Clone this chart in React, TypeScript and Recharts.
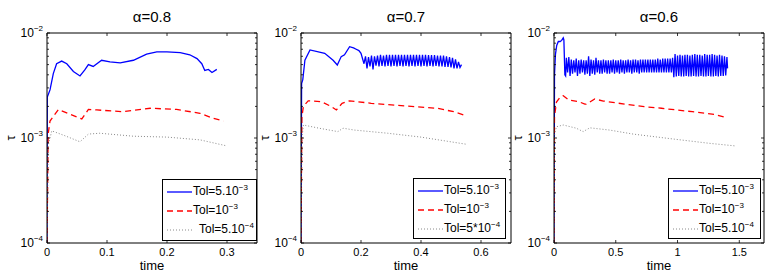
import { LineChart, Line, XAxis, YAxis, Legend } from "recharts";

const FONT = '"Liberation Sans", Arial, Helvetica, sans-serif';

// tau values are stored in units of 1e-3, [time, tau]
const A08_TOL_5E3: [number, number][] = [
  [0, 0.1], [0.0005, 2.46], [0.005, 2.87], [0.0105, 4.1], [0.016, 5.1], [0.0245, 5.4], [0.033, 5.1],
  [0.044, 4.3], [0.055, 3.9], [0.063, 4.45], [0.069, 5.0], [0.077, 4.8], [0.091, 5.5], [0.105, 5.3],
  [0.122, 5.2], [0.144, 5.5], [0.166, 6.3], [0.183, 6.6], [0.2, 6.6], [0.222, 6.5], [0.238, 6.2],
  [0.25, 5.7], [0.258, 5.1], [0.263, 4.4], [0.269, 4.5], [0.275, 4.2], [0.283, 4.5],
];
const A08_TOL_1E3: [number, number][] = [
  [0, 0.1], [0.002, 1.1], [0.005, 1.45], [0.019, 1.87], [0.058, 1.52], [0.069, 1.87], [0.083, 1.85],
  [0.127, 1.78], [0.172, 1.92], [0.216, 1.87], [0.255, 1.72], [0.277, 1.54], [0.294, 1.45],
];
const A08_TOL_5E4: [number, number][] = [
  [0, 0.1], [0.002, 0.85], [0.008, 1.17], [0.03, 1.05], [0.055, 0.92], [0.069, 1.09], [0.088, 1.11],
  [0.144, 1.04], [0.2, 1.02], [0.255, 0.96], [0.3, 0.84],
];

const A07_TOL_5E3: [number, number][] = [
  [0, 0.1], [0.002, 3.3], [0.006, 3.6], [0.013, 5.5], [0.03, 6.9], [0.079, 6.4], [0.107, 5.5],
  [0.121, 4.96], [0.134, 5.96], [0.145, 6.2], [0.162, 7.4], [0.175, 7.2], [0.184, 7.0], [0.193, 6.8],
  [0.2, 6.4], [0.21, 5.1],
];
const A07_TOL_5E3_OSC: [number, number][] = [
  [0.215, 6.0], [0.22, 4.6], [0.225, 5.9], [0.23, 4.8], [0.235, 6.1], [0.24, 4.5], [0.245, 6.0],
  [0.25, 4.9], [0.255, 6.1], [0.26, 4.8], [0.265, 6.2], [0.27, 4.85], [0.275, 6.1], [0.28, 4.8],
  [0.285, 6.2], [0.29, 4.85], [0.295, 6.2], [0.3, 4.8], [0.305, 6.2], [0.31, 4.85], [0.315, 6.2],
  [0.32, 4.8], [0.325, 6.2], [0.33, 4.85], [0.335, 6.2], [0.34, 4.8], [0.345, 6.2], [0.35, 4.85],
  [0.355, 6.2], [0.36, 4.8], [0.365, 6.2], [0.37, 4.85], [0.375, 6.2], [0.38, 4.8], [0.385, 6.2],
  [0.39, 4.85], [0.395, 6.2], [0.4, 4.8], [0.405, 6.2], [0.41, 4.85], [0.415, 6.2], [0.42, 4.8],
  [0.425, 6.15], [0.43, 4.85], [0.435, 6.15], [0.44, 4.8], [0.445, 6.15], [0.45, 4.85], [0.455, 6.1],
  [0.46, 4.8], [0.465, 6.1], [0.47, 4.8], [0.475, 6.1], [0.48, 4.75], [0.485, 6.0], [0.49, 4.75],
  [0.495, 5.9], [0.5, 4.7], [0.505, 5.8], [0.51, 4.6], [0.515, 5.6], [0.52, 4.6], [0.525, 5.3],
  [0.53, 4.7], [0.535, 5.0],
];
const A07_TOL_1E3: [number, number][] = [
  [0, 0.1], [0.003, 1.6], [0.008, 2.0], [0.024, 2.26], [0.068, 2.22], [0.1, 2.0], [0.118, 1.85],
  [0.137, 2.14], [0.162, 2.26], [0.234, 2.14], [0.344, 2.02], [0.454, 1.92], [0.509, 1.78], [0.542, 1.66],
];
const A07_TOL_5E4: [number, number][] = [
  [0, 0.1], [0.003, 1.0], [0.008, 1.33], [0.06, 1.24], [0.123, 1.15], [0.14, 1.24], [0.178, 1.19],
  [0.289, 1.11], [0.4, 1.02], [0.553, 0.87],
];

const A06_TOL_5E3: [number, number][] = [
  [0, 0.1], [0.004, 4.0], [0.012, 6.3], [0.022, 7.6], [0.035, 8.3], [0.05, 8.3], [0.062, 8.5],
  [0.075, 9.0], [0.08, 8.6], [0.088, 4.0], [0.094, 3.9],
];
const A06_TOL_5E3_BAND: [number, number][] = [
  [0.1, 5.8], [0.11, 4.2], [0.12, 5.9], [0.13, 3.9], [0.14, 5.6], [0.15, 4.1], [0.16, 5.5], [0.17, 4.2],
  [0.18, 5.7], [0.19, 3.9], [0.2, 5.5], [0.21, 4.1], [0.22, 5.6], [0.23, 4.2], [0.24, 5.5], [0.25, 4.0],
  [0.26, 5.5], [0.27, 4.1], [0.28, 6.0], [0.29, 3.9], [0.3, 5.6], [0.31, 4.1], [0.32, 5.5], [0.33, 4.0],
  [0.34, 5.8], [0.35, 4.2], [0.36, 5.5], [0.37, 4.1], [0.38, 5.5], [0.39, 4.1], [0.4, 5.6], [0.41, 4.2],
  [0.42, 5.5], [0.43, 4.1], [0.44, 5.5], [0.45, 4.1], [0.46, 5.5], [0.47, 4.2], [0.48, 5.6], [0.49, 4.1],
  [0.5, 5.5], [0.51, 4.2], [0.52, 5.5], [0.53, 4.1], [0.54, 5.6], [0.55, 4.2], [0.56, 5.5], [0.57, 4.1],
  [0.58, 5.5], [0.59, 4.2], [0.6, 5.6], [0.61, 4.2], [0.62, 5.5], [0.63, 4.1], [0.64, 5.6], [0.65, 4.2],
  [0.66, 5.6], [0.67, 4.2], [0.68, 5.5], [0.69, 4.1], [0.7, 5.6], [0.71, 4.2], [0.72, 5.6], [0.73, 4.2],
  [0.74, 5.6], [0.75, 4.2], [0.76, 5.6], [0.77, 4.2], [0.78, 5.6], [0.79, 4.2], [0.8, 5.6], [0.81, 4.2],
  [0.82, 5.6], [0.83, 4.2], [0.84, 5.7], [0.85, 4.2], [0.86, 5.6], [0.87, 4.2], [0.88, 5.7], [0.89, 4.2],
  [0.9, 5.7], [0.91, 4.2], [0.92, 5.7], [0.93, 4.2], [0.94, 5.7], [0.95, 4.2], [0.96, 5.8],
];
const A06_TOL_5E3_SPIKES: [number, number][] = [
  [0.97, 3.8], [0.98, 6.3], [0.99, 3.85], [1.0, 6.1], [1.01, 3.9], [1.02, 6.2], [1.03, 3.85], [1.04, 6.1],
  [1.05, 3.85], [1.06, 6.2], [1.07, 3.9], [1.08, 6.2], [1.09, 3.85], [1.1, 6.1], [1.11, 3.85], [1.12, 6.2],
  [1.13, 3.9], [1.14, 6.3], [1.15, 3.85], [1.16, 6.2], [1.17, 3.85], [1.18, 6.2], [1.19, 3.9], [1.2, 6.1],
  [1.21, 3.85], [1.22, 6.3], [1.23, 3.85], [1.24, 6.2], [1.25, 3.9], [1.26, 6.2], [1.27, 3.85], [1.28, 6.3],
  [1.29, 3.85], [1.3, 6.2], [1.31, 3.9], [1.32, 6.1], [1.33, 3.85], [1.34, 6.2], [1.35, 3.9], [1.36, 6.1],
  [1.37, 3.9], [1.38, 6.0], [1.39, 3.95], [1.4, 5.9], [1.405, 4.6],
];
const A06_TOL_1E3: [number, number][] = [
  [0, 0.1], [0.004, 1.6], [0.02, 2.2], [0.05, 2.45], [0.075, 2.53], [0.12, 2.3], [0.2, 2.22], [0.25, 2.1],
  [0.26, 2.1], [0.29, 2.2], [0.33, 2.35], [0.4, 2.25], [0.6, 2.08], [0.73, 1.99], [0.87, 1.92],
  [1.12, 1.78], [1.3, 1.68], [1.39, 1.57],
];
const A06_TOL_5E4: [number, number][] = [
  [0, 0.1], [0.005, 1.1], [0.02, 1.28], [0.075, 1.33], [0.18, 1.24], [0.236, 1.15], [0.29, 1.25],
  [0.45, 1.19], [0.64, 1.09], [0.99, 0.97], [1.258, 0.89], [1.47, 0.84],
];

const Y_TICKS = [
  1e-4, 2e-4, 3e-4, 4e-4, 5e-4, 6e-4, 7e-4, 8e-4, 9e-4,
  1e-3, 2e-3, 3e-3, 4e-3, 5e-3, 6e-3, 7e-3, 8e-3, 9e-3, 1e-2,
];
const Y_MAJOR = [1e-4, 1e-3, 1e-2];

// legend label text: [base, superscript]
const LEGEND_STD: [string, string][] = [["Tol=5.10", "−3"], ["Tol=10", "−3"], ["Tol=5.10", "−4"]];
const LEGEND_STAR: [string, string][] = [["Tol=5.10", "−3"], ["Tol=10", "−3"], ["Tol=5*10", "−4"]];

const pts = (arr: [number, number][]) => arr.map(([t, v]) => ({ t, v: v * 1e-3 }));

const STYLES = [
  { stroke: "#0000ff", dash: undefined, width: 1.3 },
  { stroke: "#ff0000", dash: "6 4", width: 1.3 },
  { stroke: "#8a8a8a", dash: "1 2", width: 1 },
];

const PANELS = [
  {
    left: 0, title: "α=0.8", xMax: 0.35, xTicks: [0, 0.1, 0.2, 0.3],
    series: [A08_TOL_5E3, A08_TOL_1E3, A08_TOL_5E4],
    legend: LEGEND_STD, lastIndent: 6, box: { left: 162, top: 179, width: 95, height: 62 },
  },
  {
    left: 254, title: "α=0.7", xMax: 0.7, xTicks: [0, 0.2, 0.4, 0.6],
    series: [[...A07_TOL_5E3, ...A07_TOL_5E3_OSC], A07_TOL_1E3, A07_TOL_5E4],
    legend: LEGEND_STAR, lastIndent: 0, box: { left: 159, top: 178, width: 93, height: 61 },
  },
  {
    left: 507, title: "α=0.6", xMax: 1.7, xTicks: [0, 0.5, 1, 1.5],
    series: [[...A06_TOL_5E3, ...A06_TOL_5E3_BAND, ...A06_TOL_5E3_SPIKES], A06_TOL_1E3, A06_TOL_5E4],
    legend: LEGEND_STD, lastIndent: 0, box: { left: 161, top: 178, width: 93, height: 61 },
  },
];

const PL = 47;
const PW = 210;
const PT = 33;
const PH = 210;
const PR = PL + PW;
const PB = PT + PH;

function YTick(props: any) {
  const { y, payload } = props;
  const v = payload.value;
  const major = Y_MAJOR.includes(v);
  const len = major ? 3 : 2;
  const exp = Math.round(Math.log10(v));
  return (
    <g>
      <line x1={PL} x2={PL + len} y1={y} y2={y} stroke="#000" strokeWidth={0.8} />
      <line x1={PR - len} x2={PR} y1={y} y2={y} stroke="#000" strokeWidth={0.8} />
      {major && (
        <text x={PL - 4} y={y + 4} textAnchor="end" fontSize={12} fontFamily={FONT} fill="#000">
          10<tspan dy={-6} fontSize={8}>−{Math.abs(exp)}</tspan>
        </text>
      )}
    </g>
  );
}

function XTick(props: any) {
  const { x, payload } = props;
  return (
    <g>
      <line x1={x} x2={x} y1={PB} y2={PB - 3} stroke="#000" strokeWidth={0.8} />
      <line x1={x} x2={x} y1={PT} y2={PT + 3} stroke="#000" strokeWidth={0.8} />
      <text x={x} y={PB + 13} textAnchor="middle" fontSize={11} fontFamily={FONT} fill="#000">
        {String(payload.value)}
      </text>
    </g>
  );
}

function LegendBox({ labels, lastIndent }: { labels: [string, string][]; lastIndent: number }) {
  return (
    <div
      style={{
        border: "1px solid #000", background: "#fff", width: "100%", height: "100%",
        boxSizing: "border-box", padding: "2px 0 0 4px", fontFamily: FONT, fontSize: 12, color: "#000",
      }}
    >
      {labels.map(([base, sup], i) => (
        <div key={i} style={{ display: "flex", alignItems: "center", height: 19, whiteSpace: "nowrap" }}>
          <svg width={26} height={6} style={{ flex: "none" }}>
            <line x1={0} x2={25} y1={3} y2={3} stroke={STYLES[i].stroke}
              strokeDasharray={STYLES[i].dash} strokeWidth={STYLES[i].width} />
          </svg>
          <span style={{ lineHeight: "12px", marginLeft: i === labels.length - 1 ? lastIndent : 0 }}>
            {base}
            <span style={{ fontSize: 8, position: "relative", top: -5 }}>{sup}</span>
          </span>
        </div>
      ))}
    </div>
  );
}

function Panel({ cfg }: { cfg: (typeof PANELS)[number] }) {
  const tauX = PL - 37;
  const tauY = PT + PH / 2;
  return (
    <div style={{ position: "absolute", left: cfg.left, top: 0 }}>
      <LineChart width={PR + 5} height={276} margin={{ top: 0, right: 0, bottom: 0, left: 0 }}>
        <XAxis
          xAxisId="top" orientation="top" type="number" domain={[0, cfg.xMax]} height={PT}
          tick={false} tickLine={false} axisLine={{ stroke: "#000" }}
          label={() => (
            <text x={PL + PW / 2} y={22} textAnchor="middle" fontSize={15} fontFamily={FONT} fill="#000">
              {cfg.title}
            </text>
          )}
        />
        <XAxis
          type="number" dataKey="t" domain={[0, cfg.xMax]} ticks={cfg.xTicks} interval={0}
          height={276 - PB} allowDataOverflow tickLine={false} axisLine={{ stroke: "#000" }}
          tick={XTick}
          label={() => (
            <text x={PL + PW / 2} y={270} textAnchor="middle" fontSize={13} fontFamily={FONT} fill="#000">
              time
            </text>
          )}
        />
        <YAxis
          type="number" scale="log" domain={[1e-4, 1e-2]} ticks={Y_TICKS} interval={0}
          width={PL} allowDataOverflow tickLine={false} axisLine={{ stroke: "#000" }}
          tick={YTick}
          label={() => (
            <text x={tauX} y={tauY} textAnchor="middle" dominantBaseline="central" fontSize={13}
              fontFamily={FONT} fill="#000" transform={`rotate(-90 ${tauX} ${tauY})`}>
              τ
            </text>
          )}
        />
        <YAxis
          yAxisId="right" orientation="right" type="number" domain={[0, 1]} width={5}
          tick={false} tickLine={false} axisLine={{ stroke: "#000" }}
        />
        {cfg.series.map((s, i) => (
          <Line
            key={i} data={pts(s)} dataKey="v" type="linear" dot={false} activeDot={false}
            stroke={STYLES[i].stroke} strokeWidth={STYLES[i].width} strokeDasharray={STYLES[i].dash}
            isAnimationActive={false}
          />
        ))}
        <Legend
          layout="vertical" align="center" verticalAlign="middle"
          wrapperStyle={{ left: cfg.box.left, top: cfg.box.top, width: cfg.box.width, height: cfg.box.height }}
          content={() => <LegendBox labels={cfg.legend} lastIndent={cfg.lastIndent} />}
        />
      </LineChart>
    </div>
  );
}

export default function App() {
  return (
    <div style={{ position: "absolute", left: 0, top: 0, width: 774, height: 276, background: "#fff" }}>
      {PANELS.map((p, i) => (
        <Panel key={i} cfg={p} />
      ))}
    </div>
  );
}
